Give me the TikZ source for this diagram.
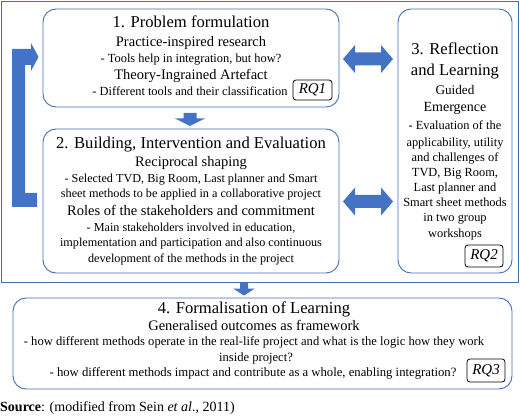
\documentclass[tikz,border=0pt]{standalone}
\usepackage{fontspec}
\setmainfont{Liberation Serif}
\definecolor{arrblue}{RGB}{68,114,196}
\definecolor{boxblue}{RGB}{70,108,178}
\begin{document}
\begin{tikzpicture}[x=1pt,y=-1pt,
  box/.style={draw=boxblue, line width=0.9pt, rounded corners=13pt, inner sep=0pt},
  rq/.style={draw=black, line width=0.8pt, rounded corners=3pt, inner sep=0pt,
    font=\fontsize{15}{16}\selectfont\itshape},
  ttl/.style={anchor=base, inner sep=0pt, font=\fontsize{16.6}{18}\selectfont},
  sub/.style={anchor=base, inner sep=0pt, font=\fontsize{14.5}{16}\selectfont},
  bdya/.style={anchor=base, inner sep=0pt, font=\fontsize{12.4}{14}\selectfont},
  bdyb/.style={anchor=base, inner sep=0pt, font=\fontsize{12.2}{14}\selectfont},
  bdyc/.style={anchor=base, inner sep=0pt, font=\fontsize{12.4}{15}\selectfont},
  bdyd/.style={anchor=base, inner sep=0pt, font=\fontsize{12.6}{14}\selectfont},
  blk/.style={fill=arrblue, draw=none}]
\useasboundingbox (0,0) rectangle (520,417);
% outer frame
\node[draw=boxblue, line width=0.8pt, minimum width=517pt, minimum height=281pt, inner sep=0pt] (frame) at (259.5,141.5) {};
% boxes
\node[box, minimum width=296pt, minimum height=98pt] (b1) at (191,58) {};
\node[box, minimum width=296pt, minimum height=144pt] (b2) at (191,201) {};
\node[box, minimum width=114pt, minimum height=264pt] (b3) at (455,141) {};
\node[box, minimum width=499pt, minimum height=91pt] (b4) at (262.5,343.5) {};
% RQ labels
\node[rq, minimum width=39pt, minimum height=20pt] (rq1) at (312.5,90) {RQ1};
\node[rq, minimum width=38pt, minimum height=22pt] (rq2) at (484,256) {RQ2};
\node[rq, minimum width=38pt, minimum height=23pt] (rq3) at (486,370.5) {RQ3};
% box 1 text
\node[ttl] (t1a) at (191,28) {1. Problem formulation};
\node[sub] (t1b) at (191,47) {Practice-inspired research};
\node[bdya] (t1c) at (191,63) {- Tools help in integration, but how?};
\node[sub] (t1d) at (191,80) {Theory-Ingrained Artefact};
\node[bdya] (t1e) at (190,96) {- Different tools and their classification};
% box 2 text
\node[ttl] (t2a) at (191,149) {2. Building, Intervention and Evaluation};
\node[sub] (t2b) at (191,167) {Reciprocal shaping};
\node[bdyb] (t2c) at (191,183) {- Selected TVD, Big Room, Last planner and Smart};
\node[bdyb] (t2d) at (191,198) {sheet methods to be applied in a collaborative project};
\node[sub] (t2e) at (191,216) {Roles of the stakeholders and commitment};
\node[bdyb] (t2f) at (191,232) {- Main stakeholders involved in education,};
\node[bdyb] (t2g) at (191,247) {implementation and participation and also continuous};
\node[bdyb] (t2h) at (191,262) {development of the methods in the project};
% box 3 text
\node[ttl] (t3a) at (455,55) {3. Reflection};
\node[ttl] (t3b) at (455,76) {and Learning};
\node[anchor=base, inner sep=0pt, font=\fontsize{13.2}{15}\selectfont] (t3c) at (455,95) {Guided};
\node[anchor=base, inner sep=0pt, font=\fontsize{14}{15}\selectfont] (t3d) at (455,112) {Emergence};
\node[bdyc] (t3e) at (455,130) {- Evaluation of the};
\node[bdyc] (t3f) at (455,147) {applicability, utility};
\node[bdyc] (t3g) at (455,162) {and challenges of};
\node[bdyc] (t3h) at (455,177) {TVD, Big Room,};
\node[bdyc] (t3i) at (455,192) {Last planner and};
\node[bdyc] (t3j) at (455,207) {Smart sheet methods};
\node[bdyc] (t3k) at (455,222) {in two group};
\node[bdyc] (t3l) at (455,237) {workshops};
% box 4 text
\node[ttl] (t4a) at (254,313) {4. Formalisation of Learning};
\node[sub] (t4b) at (254,330) {Generalised outcomes as framework};
\node[bdyd] (t4c) at (254,345) {- how different methods operate in the real-life project and what is the logic how they work};
\node[bdyd] (t4d) at (256,361) {inside project?};
\node[anchor=base, inner sep=0pt, font=\fontsize{12.7}{14}\selectfont] (t4e) at (253,376) {- how different methods impact and contribute as a whole, enabling integration?};
% source
\node[anchor=base west, inner sep=0pt, font=\fontsize{14}{16}\selectfont] (src) at (0,411)
  {\textbf{Source}: (modified from Sein \textit{et al}., 2011)};
% block arrows
\fill[blk] (343,59) -- (355,45) -- (355,52.5) -- (381,52.5) -- (381,45) -- (393,59)
  -- (381,73) -- (381,65.5) -- (355,65.5) -- (355,73) -- cycle;
\fill[blk] (343,201.5) -- (355,187.5) -- (355,195) -- (381,195) -- (381,187.5) -- (393,201.5)
  -- (381,215.5) -- (381,208) -- (355,208) -- (355,215.5) -- cycle;
\fill[blk] (183.5,113) -- (196.5,113) -- (196.5,118.5) -- (205,118.5) -- (190,126)
  -- (175,118.5) -- (183.5,118.5) -- cycle;
\fill[blk] (240,283) -- (248,283) -- (248,288.5) -- (255,288.5) -- (244,295.5)
  -- (233,288.5) -- (240,288.5) -- cycle;
\fill[blk] (37,207) -- (12,207) -- (12,49) -- (31,49) -- (31,43) -- (38.5,57)
  -- (31,71) -- (31,65) -- (25,65) -- (25,193) -- (37,193) -- cycle;
\end{tikzpicture}
\end{document}
